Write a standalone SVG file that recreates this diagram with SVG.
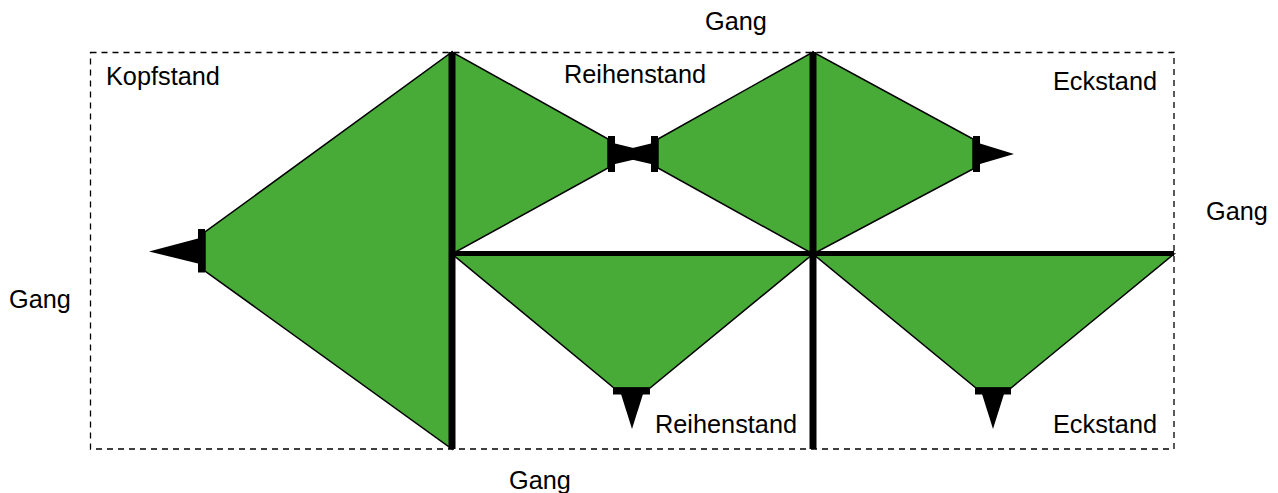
<svg xmlns="http://www.w3.org/2000/svg" width="1278" height="493" viewBox="0 0 1278 493">
<style>
.g{fill:#48ab37;stroke:#000;stroke-width:1.5;stroke-linejoin:miter}
.k{fill:#000;stroke:none}
.w{stroke:#000;fill:none}
text{font-family:"Liberation Sans",Arial,sans-serif;font-size:25.300px;fill:#000}
</style>
<rect width="1278" height="493" fill="#fff"/>
<g id="boundary"><rect x="90.500" y="52.500" width="1083.500" height="396.500" fill="none" stroke="#000" stroke-width="1.300" stroke-dasharray="6 5"/></g>
<g id="stand-kopf">
<polygon class="g" points="452,52 452,449 205,271 205,232"/>
<rect class="k" x="198" y="229" width="7" height="43.500"/>
<polygon class="k" points="149,251.500 198,238.500 198,263.500"/>
<text x="106" y="85">Kopfstand</text>
</g>
<g id="stand-reihe-oben-1">
<polygon class="g" points="452,52 452,254 608,168 608,139"/>
<rect class="k" x="608" y="136" width="7" height="36"/>
<polygon class="k" points="615,143.500 658,154 615,164"/>
<text x="564" y="83">Reihenstand</text>
</g>
<g id="stand-reihe-oben-2">
<polygon class="g" points="813,52 813,254 658,168 658,139"/>
<rect class="k" x="651" y="136" width="7" height="36"/>
<polygon class="k" points="651,143.500 608,154 651,164"/>
</g>
<g id="stand-eck-oben">
<polygon class="g" points="813,52 813,254 973,169 973,139"/>
<rect class="k" x="973" y="136" width="7" height="36"/>
<polygon class="k" points="980,143.500 1014,154 980,164"/>
<text x="1053" y="90">Eckstand</text>
</g>
<g id="stand-reihe-unten">
<polygon class="g" points="452,254 813,254 650,388 614,388"/>
<rect class="k" x="613" y="387.500" width="37" height="7"/>
<polygon class="k" points="621,394 643,394 632,429"/>
<text x="655" y="433">Reihenstand</text>
</g>
<g id="stand-eck-unten">
<polygon class="g" points="813,254 1174,254 1011,388 976,388"/>
<rect class="k" x="975" y="387.500" width="36" height="7"/>
<polygon class="k" points="982,394 1004,394 993,429"/>
<text x="1053" y="433">Eckstand</text>
</g>
<g id="walls">
<line class="w" x1="452" y1="52" x2="452" y2="449" stroke-width="7"/>
<line class="w" x1="813" y1="52" x2="813" y2="449" stroke-width="7"/>
<line class="w" x1="452" y1="253.500" x2="1174" y2="253.500" stroke-width="5"/>
</g>
<g id="labels-gang">
<text x="705" y="30">Gang</text>
<text x="1206" y="220">Gang</text>
<text x="9" y="308">Gang</text>
<text x="509" y="489">Gang</text>
</g>
</svg>
